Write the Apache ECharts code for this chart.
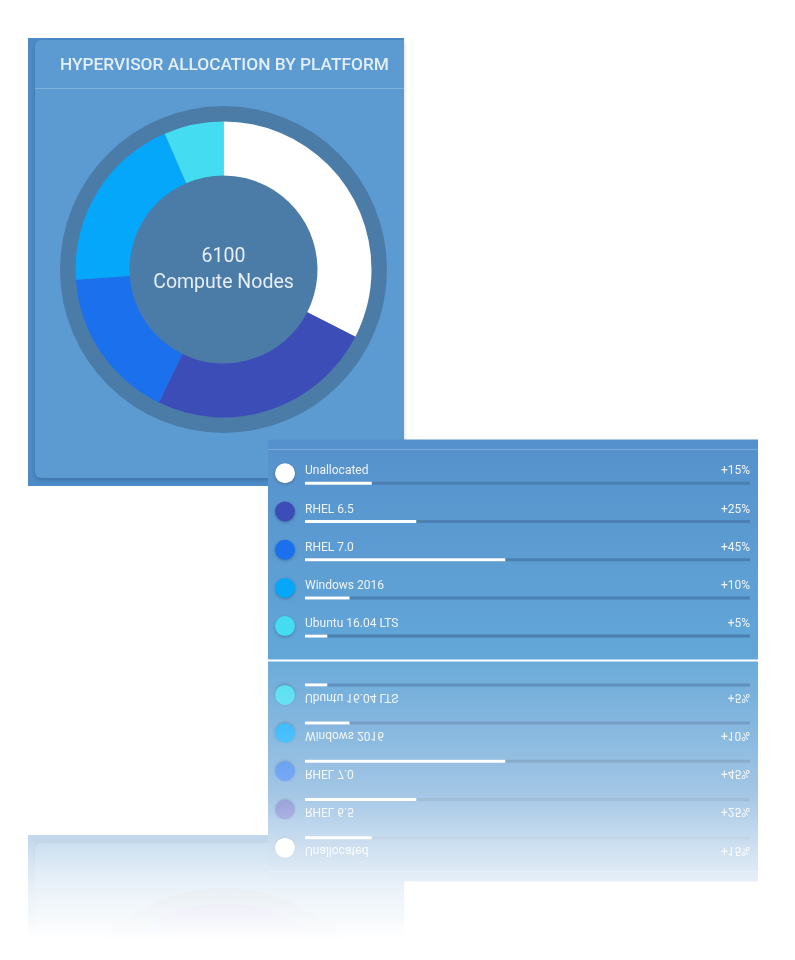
<!DOCTYPE html>
<html><head><meta charset="utf-8">
<script src="https://cdn.jsdelivr.net/npm/echarts/dist/echarts.min.js"></script>
<style>
html,body{margin:0;padding:0;background:#fff;overflow:hidden;width:795px;height:960px;}
#main{position:absolute;left:0;top:0;width:795px;height:660px;}
#refl{position:absolute;left:0;top:661px;width:795px;height:660px;transform:scaleY(-1);
-webkit-mask-image:linear-gradient(to bottom,rgba(0,0,0,0) 381px,rgba(0,0,0,0.15) 441px,rgba(0,0,0,0.35) 486px,rgba(0,0,0,0.57) 531px,rgba(0,0,0,0.95) 660px);
mask-image:linear-gradient(to bottom,rgba(0,0,0,0) 381px,rgba(0,0,0,0.15) 441px,rgba(0,0,0,0.35) 486px,rgba(0,0,0,0.57) 531px,rgba(0,0,0,0.95) 660px);}
</style>
</head><body>
<div id="main"></div>
<div id="refl"></div>
<script>
// ---- data ----
const titleText = 'HYPERVISOR ALLOCATION BY PLATFORM';
const platforms = ['Unallocated', 'RHEL 6.5', 'RHEL 7.0', 'Windows 2016', 'Ubuntu 16.04 LTS'];
const donutShare = [32.5, 24.7, 16.7, 19.6, 6.5];   // share of ring, read from the donut
const barPercent = [15, 25, 45, 10, 5];             // progress bars / labels
const totalNodes = 6100;
const centerLabel = 'Compute Nodes';

// ---- styles ----
const palette = ['#ffffff', '#3d4db8', '#1b70ee', '#05a7fa', '#44dcf0'];
const FONT = 'Roboto, "Noto Sans", sans-serif';

function buildOption() {
  const cx = 223.5, cy = 269.5;
  return {
    animation: false,
    tooltip: { show: false },
    graphic: { elements: [
      { type: 'rect', silent: true, z: 0, shape: { x: 28, y: 38, width: 376, height: 448 }, style: { fill: '#4c8bc8' } },
      { type: 'rect', silent: true, z: 0, shape: { x: 35, y: 40, width: 369, height: 438, r: [6, 0, 0, 6] },
        style: { fill: '#5b9bd1', shadowBlur: 4, shadowOffsetY: 2, shadowColor: 'rgba(0,0,0,0.18)' } },
      { type: 'text', silent: true, z: 1, x: 60, y: 66,
        style: { text: titleText, font: '500 17.3px ' + FONT, fill: '#e4eef8', textAlign: 'left', textVerticalAlign: 'middle' } },
      { type: 'line', silent: true, z: 1, shape: { x1: 35, y1: 88.5, x2: 404, y2: 88.5 },
        style: { stroke: 'rgba(255,255,255,0.22)', lineWidth: 1 } },
      { type: 'circle', silent: true, z: 1, shape: { cx: cx, cy: cy, r: 163.5 }, style: { fill: '#4b7ca8' } },
      { type: 'text', silent: true, z: 5, x: cx, y: 257,
        style: { text: String(totalNodes), font: '19.5px ' + FONT, fill: '#e6eef6', textAlign: 'center', textVerticalAlign: 'middle' } },
      { type: 'text', silent: true, z: 5, x: cx, y: 283,
        style: { text: centerLabel, font: '19.5px ' + FONT, fill: '#e6eef6', textAlign: 'center', textVerticalAlign: 'middle' } },
      { type: 'rect', silent: true, z: 10, shape: { x: 268, y: 439.5, width: 490, height: 220 },
        style: { fill: new echarts.graphic.LinearGradient(0, 0, 0, 1, [
          { offset: 0, color: '#5591cc' }, { offset: 1, color: '#63a7d8' }]) } },
      { type: 'line', silent: true, z: 11, shape: { x1: 268, y1: 449.5, x2: 758, y2: 449.5 },
        style: { stroke: 'rgba(255,255,255,0.22)', lineWidth: 1 } }
    ]},
    grid: [
      { left: 305, width: 445, top: 464.2, height: 191 },
      { left: 275, width: 20, top: 464.2, height: 191 }
    ],
    xAxis: [
      { gridIndex: 0, type: 'value', min: 0, max: 100, show: false },
      { gridIndex: 1, type: 'value', min: -1, max: 1, show: false }
    ],
    yAxis: [
      { gridIndex: 0, type: 'category', data: platforms, inverse: true, show: false },
      { gridIndex: 1, type: 'category', data: platforms, inverse: true, show: false }
    ],
    series: [
      { type: 'pie', z: 2, silent: true, center: [cx, cy], radius: [94, 148], startAngle: 90, clockwise: true,
        label: { show: false }, labelLine: { show: false }, emphasis: { disabled: true },
        data: platforms.map((n, i) => ({ name: n, value: donutShare[i], itemStyle: { color: palette[i] } })) },
      { type: 'bar', z: 12, silent: true, xAxisIndex: 0, yAxisIndex: 0, barWidth: 3,
        itemStyle: { color: '#ffffff' },
        showBackground: true, backgroundStyle: { color: '#4b80b2' },
        label: { show: true, position: [0, -10.5], align: 'left', verticalAlign: 'middle',
          formatter: p => p.name, color: '#eef4fa', fontSize: 12, fontFamily: FONT },
        data: barPercent },
      { type: 'custom', z: 13, silent: true, xAxisIndex: 0, yAxisIndex: 0, encode: { x: 0, y: 1 },
        data: platforms.map((n, i) => [barPercent[i], i]),
        renderItem: (params, api) => {
          const p = api.coord([100, api.value(1)]);
          return { type: 'text', x: p[0], y: p[1] - 12,
            style: { text: '+' + api.value(0) + '%', fill: '#eef4fa', font: '12px ' + FONT,
              textAlign: 'right', align: 'right', textVerticalAlign: 'middle', verticalAlign: 'middle' } };
        } },
      { type: 'scatter', z: 12, silent: true, xAxisIndex: 1, yAxisIndex: 1, symbol: 'circle', symbolSize: 20,
        symbolOffset: [0, -10],
        data: platforms.map((n, i) => ({ value: [0, i], itemStyle: { color: palette[i], opacity: 1,
          shadowBlur: 3, shadowOffsetY: 1, shadowColor: 'rgba(0,0,0,0.25)' } })) }
    ]
  };
}
echarts.init(document.getElementById('main')).setOption(buildOption());
echarts.init(document.getElementById('refl')).setOption(buildOption());
</script>
</body></html>
